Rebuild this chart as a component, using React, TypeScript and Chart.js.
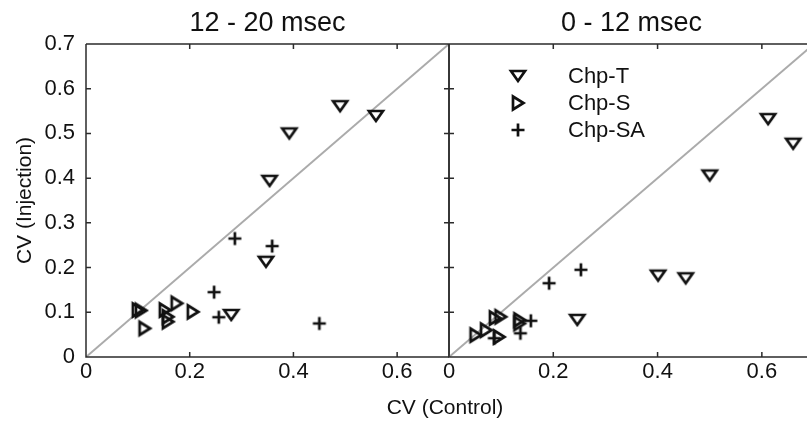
import React, { useEffect, useRef } from 'react';
import { Chart, registerables } from 'chart.js';

Chart.register(...registerables);

// ---------- text ----------
const leftTitle = '12 - 20 msec';
const rightTitle = '0 - 12 msec';
const xAxisTitle = 'CV (Control)';
const yAxisTitle = 'CV (Injection)';
const seriesLabels = ['Chp-T', 'Chp-S', 'Chp-SA'];

// ---------- axes ----------
const axisMin = 0;
const axisMax = 0.7;
const xTicks = [0, 0.2, 0.4, 0.6];
const yTicks = [0, 0.1, 0.2, 0.3, 0.4, 0.5, 0.6, 0.7];
const unityLine = [
  { x: 0, y: 0 },
  { x: 0.7, y: 0.7 },
];

// ---------- 12 - 20 msec ----------
const lateChpT = [
  { x: 0.49, y: 0.561 },
  { x: 0.559, y: 0.539 },
  { x: 0.392, y: 0.5 },
  { x: 0.354, y: 0.394 },
  { x: 0.347, y: 0.213 },
  { x: 0.28, y: 0.094 },
];
const lateChpS = [
  { x: 0.1, y: 0.105 },
  { x: 0.106, y: 0.104 },
  { x: 0.113, y: 0.064 },
  { x: 0.152, y: 0.105 },
  { x: 0.158, y: 0.09 },
  { x: 0.158, y: 0.079 },
  { x: 0.175, y: 0.12 },
  { x: 0.206, y: 0.101 },
];
const lateChpSA = [
  { x: 0.287, y: 0.265 },
  { x: 0.359, y: 0.248 },
  { x: 0.247, y: 0.145 },
  { x: 0.256, y: 0.089 },
  { x: 0.45, y: 0.075 },
];

// ---------- 0 - 12 msec ----------
const earlyChpT = [
  { x: 0.612, y: 0.532 },
  { x: 0.66, y: 0.477 },
  { x: 0.5, y: 0.406 },
  { x: 0.401, y: 0.182 },
  { x: 0.454, y: 0.176 },
  { x: 0.246, y: 0.083 },
];
const earlyChpS = [
  { x: 0.051, y: 0.049 },
  { x: 0.071, y: 0.06 },
  { x: 0.088, y: 0.087 },
  { x: 0.099, y: 0.09 },
  { x: 0.096, y: 0.045 },
  { x: 0.135, y: 0.083 },
  { x: 0.135, y: 0.075 },
];
const earlyChpSA = [
  { x: 0.253, y: 0.195 },
  { x: 0.192, y: 0.165 },
  { x: 0.157, y: 0.081 },
  { x: 0.137, y: 0.053 },
  { x: 0.087, y: 0.042 },
];

const FONT = '"Liberation Sans", Arial, Helvetica, sans-serif';
const INK = '#111';
const FRAME = '#2b2b2b';

function makeMarker(kind: 'down' | 'right' | 'plus'): HTMLCanvasElement {
  const c = document.createElement('canvas');
  c.width = 22;
  c.height = 22;
  const g = c.getContext('2d')!;
  g.translate(11, 11);
  g.strokeStyle = INK;
  g.lineWidth = 2.7;
  g.lineJoin = 'miter';
  g.beginPath();
  if (kind === 'down') {
    g.moveTo(-7, -5);
    g.lineTo(7, -5);
    g.lineTo(0, 5);
    g.closePath();
  } else if (kind === 'right') {
    g.moveTo(-5, -6.5);
    g.lineTo(-5, 6.5);
    g.lineTo(5.5, 0);
    g.closePath();
  } else {
    g.moveTo(-6.5, 0);
    g.lineTo(6.5, 0);
    g.moveTo(0, -6.5);
    g.lineTo(0, 6.5);
  }
  g.stroke();
  return c;
}

type PanelProps = {
  left: number;
  width: number;
  plotLeft: number;
  padRight: number;
  title: string;
  showYLabels: boolean;
  drawRightBorder: boolean;
  showYTitle: boolean;
  showLegend: boolean;
  chpT: { x: number; y: number }[];
  chpS: { x: number; y: number }[];
  chpSA: { x: number; y: number }[];
};

const fmt = (v: number) => String(Math.round(v * 10) / 10);

function Panel(p: PanelProps) {
  const ref = useRef<HTMLCanvasElement | null>(null);
  useEffect(() => {
    if (!ref.current) return;
    const markers = [makeMarker('down'), makeMarker('right'), makeMarker('plus')];
    const series = [p.chpT, p.chpS, p.chpSA];

    const framePlugin = {
      id: 'frame' + p.title,
      afterDraw(chart: any) {
        const { ctx, chartArea: a, scales } = chart;
        ctx.save();
        ctx.strokeStyle = FRAME;
        ctx.lineWidth = 1.5;
        ctx.beginPath();
        ctx.moveTo(a.left, a.top);
        ctx.lineTo(a.right, a.top);
        ctx.moveTo(a.left, a.top);
        ctx.lineTo(a.left, a.bottom);
        ctx.lineTo(a.right, a.bottom);
        if (p.drawRightBorder) {
          ctx.moveTo(a.right, a.top);
          ctx.lineTo(a.right, a.bottom);
        }
        const tl = 5;
        scales.x.ticks.forEach((t: any) => {
          const px = scales.x.getPixelForValue(t.value);
          ctx.moveTo(px, a.bottom);
          ctx.lineTo(px, a.bottom - tl);
          ctx.moveTo(px, a.top);
          ctx.lineTo(px, a.top + tl);
        });
        scales.y.ticks.forEach((t: any) => {
          const py = scales.y.getPixelForValue(t.value);
          ctx.moveTo(a.left, py);
          ctx.lineTo(a.left + tl, py);
          ctx.moveTo(a.right, py);
          ctx.lineTo(a.right - tl, py);
        });
        ctx.stroke();

        ctx.fillStyle = INK;
        ctx.textAlign = 'center';
        ctx.textBaseline = 'middle';
        ctx.font = '27px ' + FONT;
        const cx = (scales.x.getPixelForValue(axisMin) + scales.x.getPixelForValue(axisMax)) / 2;
        ctx.fillText(p.title, cx, 24);

        if (p.showYTitle) {
          ctx.save();
          ctx.font = '21px ' + FONT;
          ctx.translate(25, (a.top + a.bottom) / 2);
          ctx.rotate(-Math.PI / 2);
          ctx.fillText(yAxisTitle, 0, 0);
          ctx.restore();
        }

        if (p.showLegend) {
          const symX = 518 - p.left;
          const txtX = 568 - p.left;
          const rows = [76, 103, 130];
          ctx.font = '22px ' + FONT;
          ctx.textAlign = 'left';
          chart.data.datasets
            .filter((d: any) => seriesLabels.includes(d.label))
            .forEach((d: any, i: number) => {
              const img = d.pointStyle as HTMLCanvasElement;
              ctx.drawImage(img, symX - img.width / 2, rows[i] - img.height / 2);
              ctx.fillText(d.label, txtX, rows[i] + 1);
            });
        }
        ctx.restore();
      },
    };

    const chart = new Chart(ref.current, {
      type: 'scatter',
      data: {
        datasets: [
          ...seriesLabels.map((label, i) => ({
            label,
            data: series[i],
            pointStyle: markers[i] as any,
            pointRadius: 8,
            borderColor: INK,
            backgroundColor: 'transparent',
            order: 0,
          })),
          {
            label: 'unity',
            data: unityLine,
            showLine: true,
            borderColor: '#ababab',
            borderWidth: 2,
            pointRadius: 0,
            order: 1,
          } as any,
        ],
      },
      options: {
        animation: false,
        responsive: false,
        maintainAspectRatio: false,
        devicePixelRatio: 1,
        layout: { padding: { top: 44, right: p.padRight, left: 0, bottom: 0 } },
        plugins: {
          legend: { display: false },
          tooltip: { enabled: false },
          title: { display: false },
        },
        scales: {
          x: {
            type: 'linear',
            min: axisMin,
            max: axisMax,
            grid: { display: false, drawTicks: false },
            border: { display: false },
            ticks: {
              color: INK,
              font: { size: 22, family: FONT },
              padding: 2,
              maxRotation: 0,
              autoSkip: false,
              callback: (v: any) => fmt(Number(v)),
            },
            afterBuildTicks: (s: any) => {
              s.ticks = xTicks.map((v) => ({ value: v }));
            },
            afterFit: (s: any) => {
              s.height = 67;
            },
          },
          y: {
            type: 'linear',
            min: axisMin,
            max: axisMax,
            grid: { display: false, drawTicks: false },
            border: { display: false },
            ticks: {
              display: p.showYLabels,
              color: INK,
              font: { size: 22, family: FONT },
              padding: 11,
              autoSkip: false,
              callback: (v: any) => fmt(Number(v)),
            },
            afterBuildTicks: (s: any) => {
              s.ticks = yTicks.map((v) => ({ value: v }));
            },
            afterFit: (s: any) => {
              s.width = p.plotLeft;
            },
          },
        },
      },
      plugins: [framePlugin],
    });
    return () => chart.destroy();
  }, []);

  return (
    <canvas
      ref={ref}
      width={p.width}
      height={424}
      style={{ position: 'absolute', left: p.left, top: 0, width: p.width, height: 424, display: 'block' }}
    />
  );
}

export default function App() {
  return (
    <div
      style={{
        position: 'fixed',
        left: 0,
        top: 0,
        width: 807,
        height: 424,
        overflow: 'hidden',
        background: '#fff',
      }}
    >
      <Panel
        left={0}
        width={458}
        plotLeft={86}
        padRight={0}
        title={leftTitle}
        showYLabels={true}
        drawRightBorder={true}
        showYTitle={true}
        showLegend={false}
        chpT={lateChpT}
        chpS={lateChpS}
        chpSA={lateChpSA}
      />
      <Panel
        left={400}
        width={423}
        plotLeft={49}
        padRight={0}
        title={rightTitle}
        showYLabels={false}
        drawRightBorder={true}
        showYTitle={false}
        showLegend={true}
        chpT={earlyChpT}
        chpS={earlyChpS}
        chpSA={earlyChpSA}
      />
      <div
        style={{
          position: 'absolute',
          left: 0,
          top: 395,
          width: 890,
          textAlign: 'center',
          font: '21px ' + FONT,
          lineHeight: '24px',
          color: INK,
        }}
      >
        {xAxisTitle}
      </div>
    </div>
  );
}
